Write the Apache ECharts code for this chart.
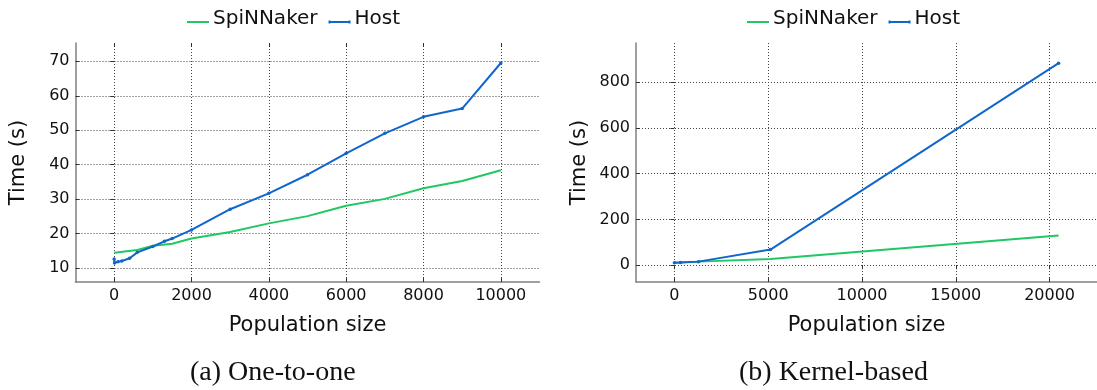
<!DOCTYPE html>
<html>
<head>
<meta charset="utf-8">
<script src="https://cdn.jsdelivr.net/npm/echarts@6/dist/echarts.min.js"></script>
<style>html,body{margin:0;padding:0;background:#fff}#c{width:1097px;height:390px}</style>
</head>
<body>
<div id="c"></div>
<script>
// ---- Data: (a) One-to-one ----
const aSpiX = [0, 600, 1000, 1500, 2000, 3000, 4000, 5000, 6000, 7000, 8000, 9000, 10000];
const aSpiY = [14.5, 15.3, 16.5, 17.1, 18.6, 20.5, 23.0, 25.1, 28.1, 30.1, 33.2, 35.3, 38.4];
const aHostX = [0, 10, 100, 200, 400, 600, 1000, 1300, 1500, 2000, 3000, 4000, 5000, 6000, 7000, 8000, 9000, 10000];
const aHostY = [12.7, 11.5, 11.9, 12.1, 12.9, 14.6, 16.3, 17.8, 18.6, 21.1, 27.1, 31.7, 37.1, 43.3, 49.1, 53.9, 56.3, 69.5];
const aXTicks = [0, 2000, 4000, 6000, 8000, 10000];
const aYTicks = [10, 20, 30, 40, 50, 60, 70];
// ---- Data: (b) Kernel-based ----
const bSpiX = [0, 320, 1280, 5120, 20480];
const bSpiY = [12, 12.5, 16, 28, 130];
const bHostX = [0, 320, 1280, 5120, 20480];
const bHostY = [11, 11.7, 16, 68.5, 883];
const bXTicks = [0, 5000, 10000, 15000, 20000];
const bYTicks = [0, 200, 400, 600, 800];
const seriesNames = ['SpiNNaker', 'Host'];
const captions = ['(a) One-to-one', '(b) Kernel-based'];

const GREEN = '#1fc862', BLUE = '#1166cc';
const FONT = 'DejaVu Sans';
const zip = (xs, ys) => xs.map((x, i) => [x, ys[i]]);
const plain = v => String(v);

function xAxes(gi, min, max, ticks) {
  return [{
    type: 'value', gridIndex: gi, position: 'bottom', min, max,
    axisLine: { show: true, onZero: false, lineStyle: { color: '#808080', width: 1.5 } },
    axisTick: { show: true, inside: true, length: 4, customValues: ticks, lineStyle: { color: '#333' } },
    axisLabel: { show: true, customValues: ticks, formatter: plain, margin: 6, color: '#111', fontFamily: FONT, fontSize: 16 },
    splitLine: { show: true, lineStyle: { color: '#444', width: 1, type: [1, 2] } },
    name: 'Population size', nameLocation: 'middle', nameGap: 33, nameMoveOverlap: false,
    nameTextStyle: { color: '#111', fontFamily: FONT, fontSize: 21, verticalAlign: 'top' }
  }, {
    type: 'value', gridIndex: gi, position: 'top', min, max,
    axisLine: { show: false },
    axisTick: { show: true, inside: true, length: 4, customValues: ticks, lineStyle: { color: '#333' } },
    axisLabel: { show: false }, splitLine: { show: false }
  }];
}
function yAxes(gi, min, max, ticks) {
  return [{
    type: 'value', gridIndex: gi, position: 'left', min, max,
    axisLine: { show: true, onZero: false, lineStyle: { color: '#808080', width: 1.5 } },
    axisTick: { show: true, inside: true, length: 4, customValues: ticks, lineStyle: { color: '#333' } },
    axisLabel: { show: true, customValues: ticks, formatter: plain, margin: 6, color: '#111', fontFamily: FONT, fontSize: 16 },
    splitLine: { show: true, lineStyle: { color: '#444', width: 1, type: [1, 2] } },
    name: 'Time (s)', nameLocation: 'middle', nameGap: 46,
    nameTextStyle: { color: '#111', fontFamily: FONT, fontSize: 21 }
  }, {
    type: 'value', gridIndex: gi, position: 'right', min, max,
    axisLine: { show: false },
    axisTick: { show: true, inside: true, length: 4, customValues: ticks, lineStyle: { color: '#333' } },
    axisLabel: { show: false }, splitLine: { show: false }
  }];
}
function line(name, data, color, xi, yi, marker) {
  return {
    type: 'line', name, data, xAxisIndex: xi, yAxisIndex: yi,
    symbol: marker ? 'circle' : 'none', symbolSize: 3.5, showSymbol: marker,
    lineStyle: { color, width: 2 }, itemStyle: { color }, animation: false, z: 3
  };
}
const ICON_LINE = 'path://M0,0 L0.05,0 L0,0.05 Z M0,12 L22,12 L22,14 L0,14 Z M21.95,20 L22,20 L22,19.95 Z';
const ICON_HOST = 'path://M0,0 L0.05,0 L0,0.05 Z M0,11.5 L2,11.5 L2,12 L20,12 L20,11.5 L22,11.5 L22,14.5 L20,14.5 L20,14 L2,14 L2,14.5 L0,14.5 Z M21.95,20 L22,20 L22,19.95 Z';
function legend(left) {
  return {
    left, top: 9, itemWidth: 22, itemHeight: 20, itemGap: 11, padding: 0,
    data: [{ name: seriesNames[0], icon: ICON_LINE }, { name: seriesNames[1], icon: ICON_HOST }],
    textStyle: { color: '#111', fontFamily: FONT, fontSize: 20, padding: [0, 0, 0, -1] }
  };
}

const chart = echarts.init(document.getElementById('c'), null, { renderer: 'canvas' });
chart.setOption({
  animation: false,
  grid: [
    { left: 75.5, top: 43, width: 464, height: 239 },
    { left: 636, top: 43, width: 463, height: 239 }
  ],
  xAxis: [...xAxes(0, -1000, 11000, aXTicks), ...xAxes(1, -2048, 22528, bXTicks)],
  yAxis: [...yAxes(0, 6, 75.3, aYTicks), ...yAxes(1, -73, 971, bYTicks)],
  legend: [legend(187), legend(747)],
  series: [
    line(seriesNames[0], zip(aSpiX, aSpiY), GREEN, 0, 0, false),
    line(seriesNames[1], zip(aHostX, aHostY), BLUE, 0, 0, true),
    line(seriesNames[0], zip(bSpiX, bSpiY), GREEN, 2, 2, false),
    line(seriesNames[1], zip(bHostX, bHostY), BLUE, 2, 2, true)
  ],
  graphic: [
    { type: 'text', left: 190, top: 359, style: { text: captions[0], font: '28px "Liberation Serif"', fill: '#111' } },
    { type: 'text', left: 739, top: 359, style: { text: captions[1], font: '28px "Liberation Serif"', fill: '#111' } }
  ]
});
</script>
</body>
</html>
